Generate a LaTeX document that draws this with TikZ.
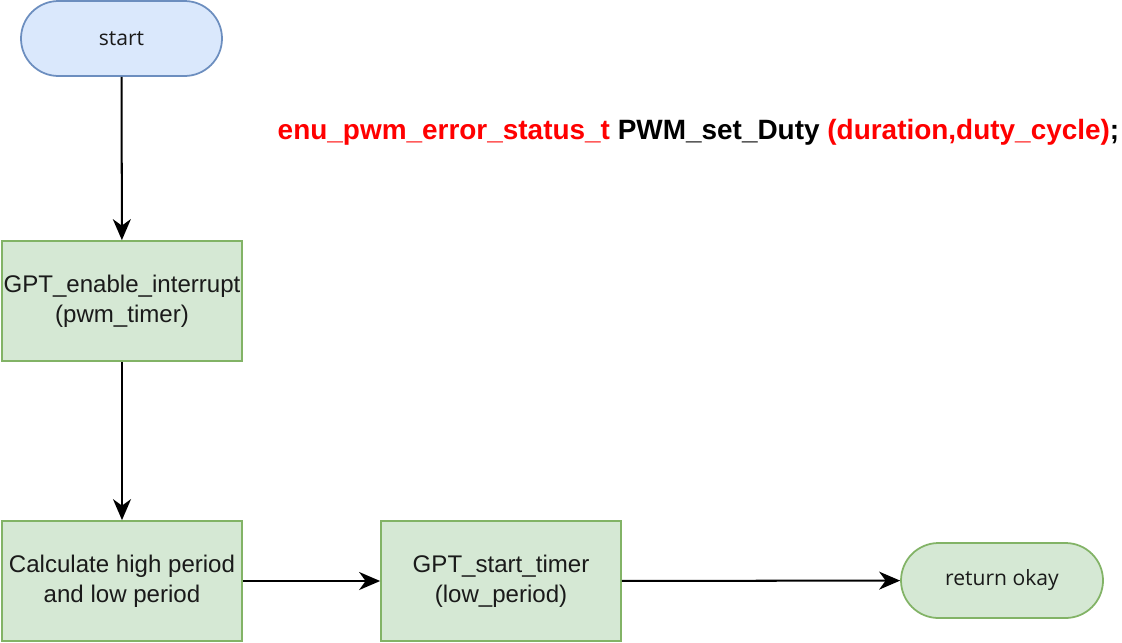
\documentclass[tikz,border=0pt]{standalone}
\usepackage{fontspec}
\setmainfont{Liberation Sans}
\newfontfamily\pillfont{Open Sans}
\usepackage{xcolor}
\usepackage{tikz}
\usetikzlibrary{arrows.meta, positioning}
\definecolor{Ink}{HTML}{1A1A1A}
\definecolor{BlueLine}{HTML}{6C8EBF}
\definecolor{SoftBlue}{HTML}{DAE8FC}
\definecolor{GreenLine}{HTML}{82B366}
\definecolor{SoftGreen}{HTML}{D5E8D4}
\definecolor{SigRed}{HTML}{FF0000}

\begin{document}
\begin{tikzpicture}[
  terminal/.style={rounded corners=0.75cm, draw=BlueLine, line width=1pt, fill=SoftBlue, align=center, minimum width=4.02cm, minimum height=1.5cm, inner sep=0pt, text=Ink, font=\pillfont\fontsize{12}{14}\selectfont},
  endterm/.style={terminal, draw=GreenLine, fill=SoftGreen, minimum width=4.04cm},
  process/.style={draw=GreenLine, line width=1pt, fill=SoftGreen, align=center, minimum width=4.8cm, minimum height=2.4cm, inner sep=0pt, text=Ink, font=\fontsize{13.7}{17}\selectfont},
  arrow/.style={-{Stealth[length=4.2mm, width=3.6mm, inset=1.3mm]}, line width=1.15pt, draw=black}
]
\useasboundingbox (0,0) rectangle (22.44,-12.84);
\node[terminal] (start) at (2.43,-0.77) {start};
\node[font=\bfseries\fontsize{15.9}{18}\selectfont] (signature) at (13.97,-2.64)
  {\textcolor{SigRed}{enu\_pwm\_error\_status\_t} PWM\_set\_Duty \textcolor{SigRed}{(duration,duty\_cycle)};};
\node[process] (enable) at (2.44,-6.02) {GPT\_enable\_interrupt\\(pwm\_timer)};
\node[process] (calc) at (2.44,-11.62) {Calculate high period\\and low period};
\node[process] (timer) at (10.02,-11.62) {GPT\_start\_timer\\(low\_period)};
\node[endterm] (ret) at (20.04,-11.61) {return okay};

\draw[arrow] (start) -- (enable);
\draw[arrow] (enable) -- (calc);
\draw[arrow] (calc) -- (timer);
\draw[arrow] (timer) -- (ret);
\end{tikzpicture}
\end{document}
